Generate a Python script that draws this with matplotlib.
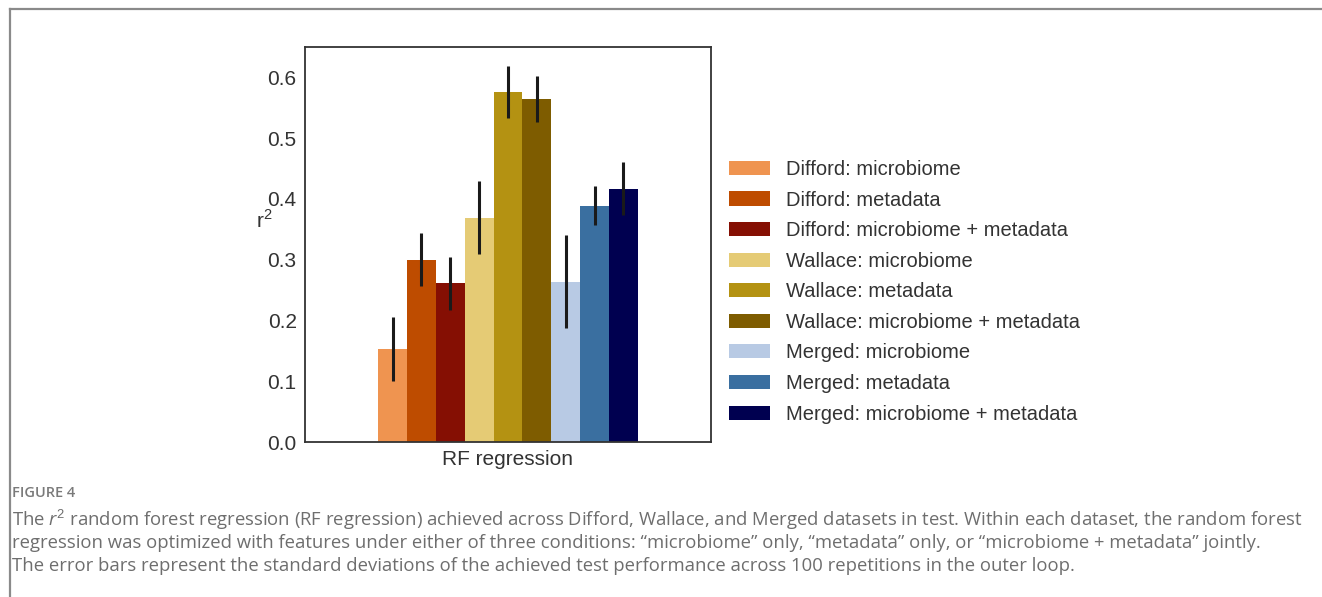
import matplotlib
matplotlib.use("Agg")
import matplotlib.pyplot as plt
from matplotlib.lines import Line2D
from matplotlib.patches import Patch

# ---- data ----
category = "RF regression"
series_labels = [
    "Difford: microbiome",
    "Difford: metadata",
    "Difford: microbiome + metadata",
    "Wallace: microbiome",
    "Wallace: metadata",
    "Wallace: microbiome + metadata",
    "Merged: microbiome",
    "Merged: metadata",
    "Merged: microbiome + metadata",
]
r2_values = [0.153, 0.300, 0.261, 0.369, 0.576, 0.564, 0.264, 0.389, 0.417]
r2_sd = [0.053, 0.044, 0.043, 0.060, 0.043, 0.038, 0.077, 0.032, 0.043]
bar_colors = ["#EF9450", "#BE4C00", "#850F03", "#E5CB75", "#B49212",
              "#7E5C00", "#B8CAE4", "#3A6FA0", "#000050"]
yticks = [0.0, 0.1, 0.2, 0.3, 0.4, 0.5, 0.6]

caption_head = "FIGURE 4"
caption_lines = [
    "The $\\mathit{r}^2$ random forest regression (RF regression) achieved across Difford, Wallace, and Merged datasets in test. Within each dataset, the random forest",
    "regression was optimized with features under either of three conditions: \u201cmicrobiome\u201d only, \u201cmetadata\u201d only, or \u201cmicrobiome + metadata\u201d jointly.",
    "The error bars represent the standard deviations of the achieved test performance across 100 repetitions in the outer loop.",
]

plt.rcParams["font.family"] = ["Liberation Sans", "DejaVu Sans"]
plt.rcParams["mathtext.fontset"] = "custom"
plt.rcParams["mathtext.rm"] = "Open Sans"
plt.rcParams["mathtext.it"] = "Open Sans:italic"

W, H = 1322, 597
fig = plt.figure(figsize=(W / 100, H / 100), dpi=100)
fig.patch.set_facecolor("white")

ax = fig.add_axes([305 / W, 1 - 442 / H, (711 - 305) / W, (442 - 47) / H])
n = len(r2_values)
total = 0.64
w = total / n
for i, (v, e, c, lab) in enumerate(zip(r2_values, r2_sd, bar_colors, series_labels)):
    x = -total / 2 + w * (i + 0.5)
    ax.bar(x, v, width=w, color=c, label=lab, linewidth=0)
    ax.errorbar(x, v, yerr=e, fmt="none", ecolor="#1a1a1a", elinewidth=2.2, capsize=0)

ax.set_xlim(-0.5, 0.5)
ax.set_ylim(0, 0.65)
ax.set_yticks(yticks)
ax.set_yticklabels([f"{t:.1f}" for t in yticks])
ax.set_xticks([0])
ax.set_xticklabels([category])
ax.tick_params(axis="both", length=0, labelsize=15, colors="#333333", pad=6)
ax.tick_params(axis="y", pad=6)
ax.set_ylabel("r$^2$", fontsize=15, color="#333333", rotation=0,
              family="Liberation Sans")
ax.yaxis.set_label_coords((264 - 305) / (711 - 305), (442 - 232) / (442 - 47))
plt.rcParams["mathtext.rm"] = "Liberation Sans"
for s in ax.spines.values():
    s.set_color("#333333")
    s.set_linewidth(1.3)

handles = [Patch(facecolor=c, edgecolor="none") for c in bar_colors]
fig.legend(handles, series_labels, loc="upper left",
           bbox_to_anchor=(729 / W, 1 - 160 / H), frameon=False,
           fontsize=14.5, borderpad=0, borderaxespad=0, handlelength=2.04,
           handleheight=0.7, handletextpad=0.8, labelspacing=0.575,
           labelcolor="#333333")

# outer border (top and left)
fig.add_artist(Line2D([9.5 / W, 1.0], [1 - 8.5 / H, 1 - 8.5 / H],
                      transform=fig.transFigure, color="#8a8a8a", linewidth=1.6))
fig.add_artist(Line2D([9.5 / W, 9.5 / W], [0.0, 1 - 8.5 / H],
                      transform=fig.transFigure, color="#8a8a8a", linewidth=1.6))

fig.text(12 / W, 1 - 493 / H, caption_head, fontsize=10.5, color="#7a7a7a",
         family="Open Sans", weight="semibold", va="center", ha="left")
for k, line in enumerate(caption_lines):
    fig.text(12 / W, 1 - (520 + 23 * k) / H, line, fontsize=13.3, color="#6e6e6e",
             family="Open Sans", va="center", ha="left")

fig.savefig("out.png", dpi=100, facecolor="white")
